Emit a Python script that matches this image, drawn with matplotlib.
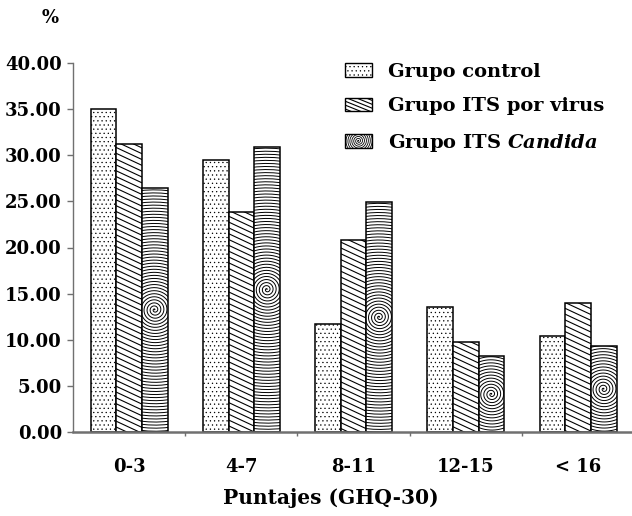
import numpy as np
import matplotlib.pyplot as plt
from matplotlib.patches import Rectangle, Patch
from matplotlib.lines import Line2D
from matplotlib.legend_handler import HandlerPatch
from matplotlib.transforms import Affine2D, ScaledTranslation

categories = ['0-3', '4-7', '8-11', '12-15', '< 16']
control = [35.0, 29.5, 11.7, 13.5, 10.4]
virus = [31.2, 23.9, 20.8, 9.8, 14.0]
candida = [26.5, 30.9, 24.9, 8.2, 9.3]
labels = ['Grupo control', 'Grupo ITS por virus', 'Grupo ITS $\\mathit{Candida}$']
yticks = [0, 5, 10, 15, 20, 25, 30, 35, 40]

plt.rcParams['font.family'] = 'DejaVu Serif'
plt.rcParams['font.weight'] = 'bold'
plt.rcParams['mathtext.fontset'] = 'custom'
plt.rcParams['mathtext.it'] = 'DejaVu Serif:italic:bold'
plt.rcParams['hatch.linewidth'] = 0.4


def spiral_xy(cx, cy, step, radius):
    turns = radius / step
    t = np.linspace(0, 2 * np.pi * turns, int(turns * 90) + 2)
    r = step * t / (2 * np.pi)
    return cx + r * np.cos(t), cy + r * np.sin(t)


def stripes_xy(cx, cy, gap, radius, angle=25):
    a = np.deg2rad(angle)
    d = np.array([np.cos(a), -np.sin(a)])
    n = np.array([np.sin(a), np.cos(a)])
    xs, ys = [], []
    for k in np.arange(-radius, radius + gap, gap):
        p0 = np.array([cx, cy]) + k * n - radius * d
        p1 = np.array([cx, cy]) + k * n + radius * d
        xs += [p0[0], p1[0], np.nan]
        ys += [p0[1], p1[1], np.nan]
    return np.array(xs), np.array(ys)


class LineHatch(HandlerPatch):
    def __init__(self, maker, lw):
        super().__init__()
        self.maker = maker
        self.lw = lw

    def create_artists(self, legend, orig_handle, xdescent, ydescent,
                       width, height, fontsize, trans):
        rect = Rectangle((-xdescent, -ydescent), width, height, facecolor='white',
                         edgecolor='black', lw=1.0, transform=trans)
        x, y = self.maker(-xdescent + width / 2, -ydescent + height / 2)
        ln = Line2D(x, y, color='black', lw=self.lw, transform=trans)
        ln.set_clip_path(rect)
        return [rect, ln]


def decorate(ax, bars, maker, lw):
    s = ax.figure.dpi / 72.0
    for b in bars:
        cx = b.get_x() + b.get_width() / 2
        cy = b.get_y() + b.get_height() / 2
        tr = Affine2D().scale(s) + ScaledTranslation(cx, cy, ax.transData)
        x, y = maker(0, 0)
        ln = Line2D(x, y, transform=tr, color='black', lw=lw, zorder=2.5)
        ax.add_artist(ln)
        ln.set_clip_path(b)


fig = plt.figure(figsize=(6.32, 5.16), dpi=100)
ax = fig.add_axes([73 / 632, 84 / 516, 559 / 632, 369 / 516])

x = np.arange(len(categories))
w = 0.228
b1 = ax.bar(x - w, control, w, facecolor='white', edgecolor='black', lw=1.1,
            hatch='....', zorder=2)
b2 = ax.bar(x, virus, w, facecolor='white', edgecolor='black', lw=1.1, zorder=2)
b3 = ax.bar(x + w, candida, w, facecolor='white', edgecolor='black', lw=1.1, zorder=2)

# stripes and spirals drawn by hand, clipped to each bar
decorate(ax, b2, lambda cx, cy: stripes_xy(cx, cy, 3.8, 220, 25), 0.8)
decorate(ax, b3, lambda cx, cy: spiral_xy(cx, cy, 2.2, 160), 0.7)

ax.set_xlim(-0.5, 4.48)
ax.set_ylim(0, 40)
ax.set_yticks(yticks)
ax.set_yticklabels(['%.2f' % v for v in yticks])
ax.set_xticks(x)
ax.set_xticklabels(categories)
ax.set_xticks(x[:-1] + 0.5, minor=True)
ax.tick_params(axis='x', which='major', length=0, pad=19, labelsize=13)
ax.tick_params(axis='x', which='minor', length=3, color='#707070', width=1)
ax.tick_params(axis='y', length=4, color='#707070', width=1, pad=4, labelsize=13)

for side in ['top', 'right']:
    ax.spines[side].set_visible(False)
ax.spines['left'].set_color('#707070')
ax.spines['left'].set_linewidth(1)
ax.spines['bottom'].set_color('#707070')
ax.spines['bottom'].set_linewidth(1.8)

h1 = Patch(facecolor='white', edgecolor='black', hatch='....', lw=1.0)
h2 = Patch(facecolor='white', edgecolor='black')
h3 = Patch(facecolor='white', edgecolor='black')
fig.legend([h1, h2, h3], labels, loc='upper left',
           bbox_to_anchor=(345 / 632, 1 - 63 / 516), frameon=False,
           borderpad=0, borderaxespad=0, fontsize=14,
           handlelength=1.4, handleheight=0.72, handletextpad=0.8,
           labelspacing=0.84,
           handler_map={h2: LineHatch(lambda cx, cy: stripes_xy(cx, cy, 2.6, 30, 22), 0.8),
                        h3: LineHatch(lambda cx, cy: spiral_xy(cx, cy, 1.4, 14), 0.6)})

fig.text(50 / 632, 1 - 18 / 516, '%', ha='center', va='center', fontsize=13)
fig.text(331 / 632, 1 - 498 / 516, 'Puntajes (GHQ-30)', ha='center', va='center',
         fontsize=14.5)

fig.savefig('out.png', dpi=100)
